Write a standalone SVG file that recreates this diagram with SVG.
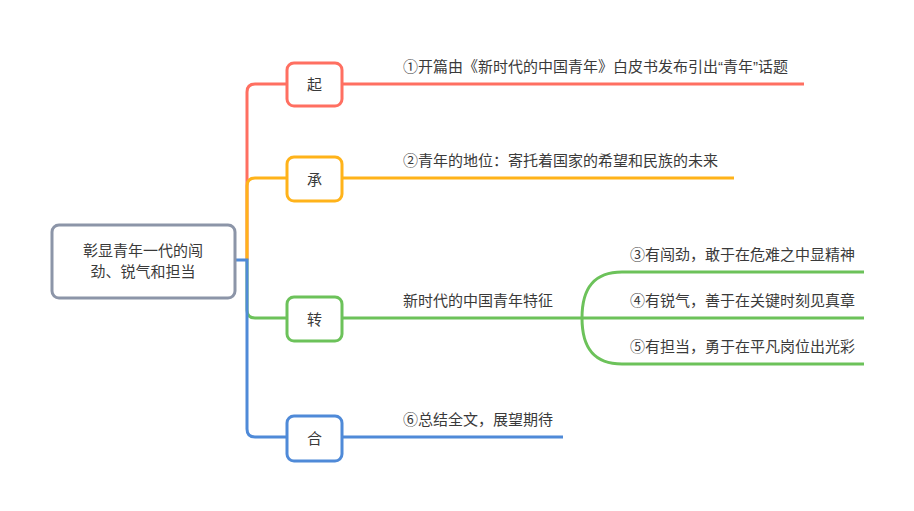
<svg xmlns="http://www.w3.org/2000/svg" width="914" height="511" viewBox="0 0 914 511">
<style>
text{font-family:"Noto Sans CJK SC","Liberation Sans",sans-serif;font-size:15px;fill:#3a3a3a}
.q{font-family:"Liberation Sans",sans-serif}
.c{text-anchor:middle}
.ln{fill:none;stroke-width:3;stroke-linecap:butt}
.box{fill:#fff;stroke-width:3}
.r{stroke:#ff6f61}.o{stroke:#ffb31a}.g{stroke:#6cc25a}.b{stroke:#4f8ad8}
</style>
<rect width="914" height="511" fill="#fff"/>
<g id="connectors">
<path class="ln r" d="M247 260 V92 Q247 84 255 84 H287 M342 84 H804"/>
<path class="ln o" d="M247 260 V186 Q247 178 255 178 H287 M342 178 H734"/>
<path class="ln g" d="M247 260 V310 Q247 318 255 318 H287 M342 318 H582 M582 318 C582 288 594 272 622 272 H864 M582 318 H864 M582 318 C582 348 594 364 622 364 H864"/>
<path class="ln b" d="M235 260 H247 V429 Q247 437 255 437 H287 M342 437 H563"/>
</g>
<g id="root">
<rect class="box" x="52" y="225" width="183" height="73" rx="7" stroke="#8c95a8"/>
<text class="c" x="143" y="256">彰显青年一代的闯</text>
<text class="c" x="143" y="277">劲、锐气和担当</text>
</g>
<g id="qi">
<rect class="box r" x="287" y="63" width="55" height="43" rx="7"/>
<text class="c" x="314.5" y="89.5">起</text>
</g>
<g id="cheng">
<rect class="box o" x="287" y="157" width="55" height="44" rx="7"/>
<text class="c" x="314.5" y="184.5">承</text>
</g>
<g id="zhuan">
<rect class="box g" x="287" y="297" width="55" height="44" rx="7"/>
<text class="c" x="314.5" y="324.5">转</text>
</g>
<g id="he">
<rect class="box b" x="287" y="416" width="55" height="45" rx="7"/>
<text class="c" x="314.5" y="443.5">合</text>
</g>
<g id="label1"><text x="403" y="72">①开篇由《新时代的中国青年》白皮书发布引出<tspan class="q">“</tspan>青年<tspan class="q">”</tspan>话题</text></g>
<g id="label2"><text x="403" y="166">②青年的地位：寄托着国家的希望和民族的未来</text></g>
<g id="label-zhuan"><text x="403" y="306">新时代的中国青年特征</text></g>
<g id="label3"><text x="630" y="260">③有闯劲，敢于在危难之中显精神</text></g>
<g id="label4"><text x="630" y="306">④有锐气，善于在关键时刻见真章</text></g>
<g id="label5"><text x="630" y="352">⑤有担当，勇于在平凡岗位出光彩</text></g>
<g id="label6"><text x="403" y="425">⑥总结全文，展望期待</text></g>
</svg>
